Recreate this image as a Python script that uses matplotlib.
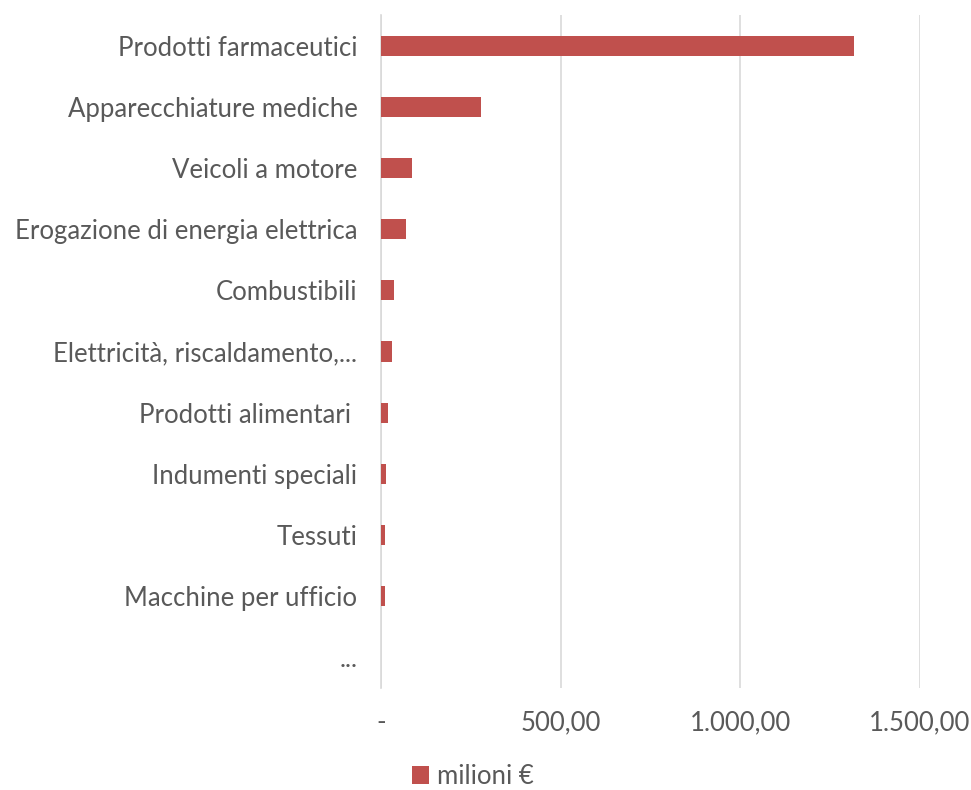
import matplotlib
matplotlib.use('Agg')
import matplotlib.pyplot as plt
from matplotlib.ticker import FixedLocator, FuncFormatter

# =====================================
# DATA
# =====================================

categories = [
    'Prodotti farmaceutici',
    'Apparecchiature mediche',
    'Veicoli a motore',
    'Erogazione di energia elettrica',
    'Combustibili',
    'Elettricità, riscaldamento,...',
    'Prodotti alimentari ',
    'Indumenti speciali',
    'Tessuti',
    'Macchine per ufficio',
    '...',
]
values = [1317, 277, 86, 70, 36, 31, 20, 15, 11, 10, 0]
x_ticks = [0, 500, 1000, 1500]
series_name = 'milioni €'

# =====================================
# STYLE
# =====================================

plt.rcParams['font.family'] = ['Lato', 'DejaVu Sans']
text_color = '#595959'
bar_color = '#C0504D'
grid_color = '#D9D9D9'


def it_format(v, pos):
    if v == 0:
        return '-'
    s = f'{v:,.2f}'
    return s.replace(',', 'X').replace('.', ',').replace('X', '.')


# =====================================
# CHART
# =====================================

fig = plt.figure(figsize=(9.71, 7.90), dpi=100)
ax = fig.add_axes([0.3924, 0.1291, 0.5551, 0.8519])

positions = list(range(len(categories)))
ax.barh(positions, values, height=0.33, color=bar_color, label=series_name, zorder=3)

ax.set_ylim(len(categories) - 0.5, -0.5)
ax.set_xlim(0, 1500)
ax.set_yticks(positions)
ax.set_yticklabels(categories)

ax.xaxis.set_major_locator(FixedLocator(x_ticks))
ax.xaxis.set_major_formatter(FuncFormatter(it_format))
ax.grid(axis='x', color=grid_color, linewidth=1.2, zorder=0)

for side in ['top', 'right', 'bottom']:
    ax.spines[side].set_visible(False)
ax.spines['left'].set_color(grid_color)
ax.spines['left'].set_linewidth(1.2)

ax.tick_params(axis='both', length=0, labelsize=18.5, colors=text_color)
ax.tick_params(axis='y', pad=17)
ax.tick_params(axis='x', pad=16)

fig.legend(loc='center', bbox_to_anchor=(0.487, 0.017), frameon=False,
           fontsize=18.5, labelcolor=text_color, handlelength=0.65, handleheight=0.65,
           handletextpad=0.3)

fig.savefig('out.png', dpi=100)
